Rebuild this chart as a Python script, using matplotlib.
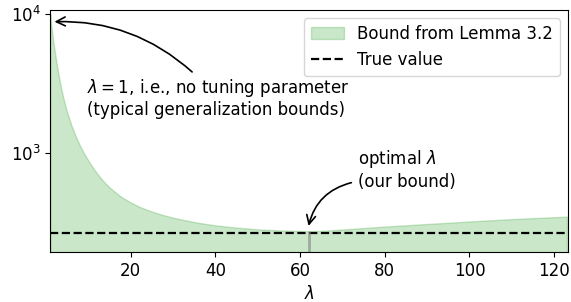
import numpy as np
import matplotlib
matplotlib.use("Agg")
import matplotlib.pyplot as plt

# ── data ───────────────────────────────────────────────────────────────────────
lam = [1, 1.25, 1.5, 1.75, 2, 2.5, 3, 3.5, 4, 4.5, 5, 6, 7, 8, 9, 10, 11, 12,
       13, 14, 15, 16, 17, 18, 20, 22, 24, 26, 28, 30, 33, 36, 40, 45, 50, 55,
       60, 62, 65, 70, 75, 80, 90, 100, 110, 123]
bound = [10000, 8300, 7200, 6250, 5550, 4400, 3600, 3000, 2550, 2220, 1960,
         1580, 1320, 1130, 990, 880, 790, 715, 655, 605, 565, 532, 503, 478,
         440, 410, 388, 370, 355, 342, 327, 314, 301, 290, 282, 277, 274, 273,
         275, 281, 288, 295, 308, 321, 334, 348]
true_value = 266

lam = np.array(lam, dtype=float)
bound = np.array(bound, dtype=float)
i_opt = int(np.argmin(bound))

plt.rcParams["font.family"] = "DejaVu Sans"
plt.rcParams["font.size"] = 12

fig = plt.figure(figsize=(5.71, 3.02), dpi=100)
ax = fig.add_axes([0.088, 0.166, 0.907, 0.801])

y_lo, y_hi = 194, 10700

ax.fill_between(lam, bound, y_lo / 2, color="tab:green", alpha=0.25,
                label="Bound from Lemma 3.2")
ax.axhline(true_value, color="black", ls="--", lw=1.6, label="True value")
ax.vlines(lam[i_opt], y_lo, bound[i_opt], color="gray", alpha=0.6, lw=2)

ax.set_yscale("log")
ax.set_xlim(1, 123.3)
ax.set_ylim(y_lo, y_hi)
ax.minorticks_off()
ax.set_xticks([20, 40, 60, 80, 100, 120])
ax.set_xlabel(r"$\lambda$")

# annotations
ax.text(9.7, 2490, "$\\lambda = 1$, i.e., no tuning parameter\n(typical generalization bounds)",
        ha="left", va="center")
ax.annotate("", xy=(2.0, 8800), xytext=(34.5, 3830),
            arrowprops=dict(arrowstyle="->", color="black", lw=1.2,
                            connectionstyle="arc3,rad=0.2",
                            shrinkA=0, shrinkB=0, mutation_scale=16))

ax.text(73.6, 755, "optimal $\\lambda$\n(our bound)", ha="left", va="center")
ax.annotate("", xy=(lam[i_opt], 298), xytext=(72.1, 611),
            arrowprops=dict(arrowstyle="->", color="black", lw=1.2,
                            connectionstyle="arc3,rad=0.3",
                            shrinkA=0, shrinkB=0, mutation_scale=16))

ax.legend(loc="upper right")

fig.savefig("out.png", dpi=100)
